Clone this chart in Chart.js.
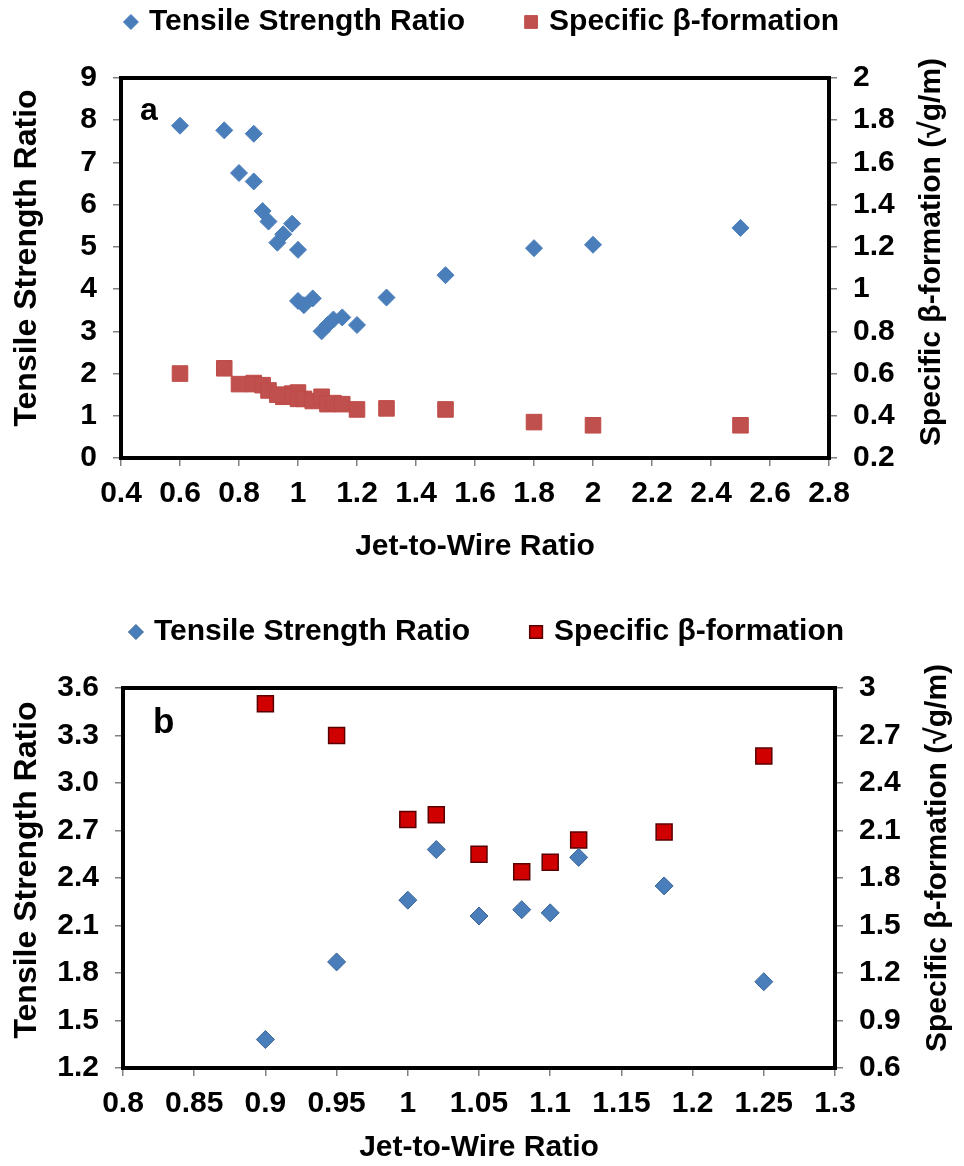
<!DOCTYPE html>
<html>
<head>
<meta charset="utf-8">
<script src="https://cdn.jsdelivr.net/npm/chart.js@4.4.1/dist/chart.umd.min.js"></script>
<style>
  body { margin: 0; background: #fff; }
  canvas { position: absolute; left: 0; }
  #chartA { top: 0; }
  #chartB { top: 565px; }
</style>
</head>
<body>
<canvas id="chartA" width="964" height="565"></canvas>
<canvas id="chartB" width="964" height="601"></canvas>
<script>
// ---- panel a ----
const jetRatioA = [0.6, 0.75, 0.85, 0.8, 0.85, 0.88, 0.9, 0.98, 0.95, 0.93, 1.0, 1.0,
                   1.02, 1.05, 1.08, 1.1, 1.12, 1.15, 1.2, 1.3, 1.5, 1.8, 2.0, 2.5];
const tensileA = [7.87, 7.76, 7.68, 6.75, 6.55, 5.85, 5.6, 5.55, 5.3, 5.1, 4.93, 3.72,
                  3.62, 3.78, 3.0, 3.15, 3.28, 3.33, 3.15, 3.8, 4.33, 4.97, 5.05, 5.45];
const betaA = [0.6, 0.625, 0.555, 0.55, 0.55, 0.545, 0.52, 0.505, 0.49, 0.5, 0.51, 0.48,
               0.48, 0.47, 0.49, 0.455, 0.46, 0.455, 0.43, 0.435, 0.43, 0.37, 0.355, 0.355];

// ---- panel b ----
const jetRatioB = [0.9, 0.95, 1.0, 1.02, 1.05, 1.08, 1.1, 1.12, 1.18, 1.25];
const tensileB = [1.38, 1.87, 2.26, 2.58, 2.16, 2.2, 2.18, 2.53, 2.35, 1.745];
const betaB = [2.9, 2.7, 2.17, 2.2, 1.95, 1.84, 1.9, 2.04, 2.09, 2.57];

const FONT = '"Liberation Sans", Arial, sans-serif';
const tickFont = { family: FONT, size: 30, weight: 'bold' };
const titleFont = { family: FONT, size: 30, weight: 'bold' };
const plain = v => String(+v.toFixed(2));

function points(xs, ys) {
  return xs.map((x, i) => ({ x: x, y: ys[i] }));
}

function sideTitle(ctx, text, x, y, size) {
  ctx.save();
  ctx.fillStyle = '#000';
  ctx.font = 'bold ' + size + 'px ' + FONT;
  ctx.textAlign = 'center';
  ctx.textBaseline = 'middle';
  ctx.translate(x, y);
  ctx.rotate(-Math.PI / 2);
  ctx.fillText(text, 0, 0);
  ctx.restore();
}

// frame, panel letter, side titles and legend
const decor = {
  id: 'decor',
  afterDraw(chart, args, o) {
    const ctx = chart.ctx;
    const a = chart.chartArea;
    const midY = (a.top + a.bottom) / 2;
    ctx.save();
    ctx.strokeStyle = '#000';
    ctx.lineWidth = 4;
    ctx.strokeRect(a.left, a.top, a.right - a.left, a.bottom - a.top);

    ctx.fillStyle = '#000';
    ctx.font = 'bold ' + o.letterSize + 'px ' + FONT;
    ctx.textBaseline = 'alphabetic';
    ctx.textAlign = 'left';
    ctx.fillText(o.letter, o.letterX, o.letterY);
    ctx.restore();

    // both axis titles read bottom to top
    sideTitle(ctx, 'Tensile Strength Ratio', o.leftX, midY + o.leftDy, 32);
    sideTitle(ctx, 'Specific \u03b2-formation (\u221ag/m)', o.rightX, midY + o.rightDy, 30);

    // legend
    ctx.save();
    ctx.font = 'bold 30px ' + FONT;
    ctx.textBaseline = 'middle';
    ctx.textAlign = 'left';
    const markW = 16, gapText = 10;
    const items = chart.data.datasets.map(ds => ({ ds: ds, w: ctx.measureText(ds.label).width }));
    let total = o.legendGap * (items.length - 1);
    items.forEach(it => { total += markW + gapText + it.w; });
    let x = o.legendCx - total / 2;
    items.forEach(it => {
      ctx.fillStyle = it.ds.backgroundColor;
      ctx.strokeStyle = it.ds.borderColor;
      ctx.lineWidth = it.ds.borderWidth;
      Chart.helpers.drawPoint(ctx, {
        pointStyle: it.ds.pointStyle,
        radius: it.ds.pointStyle === 'rect' ? 9 : 7.5,
        rotation: 0,
        borderWidth: it.ds.borderWidth
      }, x + markW / 2, o.legendY);
      ctx.fillStyle = '#000';
      ctx.fillText(it.ds.label, x + markW + gapText, o.legendY);
      x += markW + gapText + it.w + o.legendGap;
    });
    ctx.restore();
  }
};

function makeChart(id, cfg) {
  return new Chart(document.getElementById(id), {
    type: 'scatter',
    data: {
      datasets: [
        {
          label: 'Tensile Strength Ratio',
          data: points(cfg.xs, cfg.tensile),
          yAxisID: 'y',
          pointStyle: 'rectRot',
          pointRadius: cfg.diamondR,
          backgroundColor: '#4A7EBB',
          borderColor: cfg.diamondBorder,
          borderWidth: 1
        },
        {
          label: 'Specific \u03b2-formation',
          data: points(cfg.xs, cfg.beta),
          yAxisID: 'y2',
          pointStyle: 'rect',
          pointRadius: cfg.squareR,
          backgroundColor: cfg.squareFill,
          borderColor: cfg.squareBorder,
          borderWidth: cfg.squareBorderW
        }
      ]
    },
    options: {
      responsive: false,
      animation: false,
      layout: { padding: { top: cfg.top, left: 0, right: 0, bottom: 0 } },
      plugins: {
        legend: { display: false },
        tooltip: { enabled: false },
        decor: cfg.decor
      },
      scales: {
        x: {
          type: 'linear',
          min: cfg.xMin, max: cfg.xMax,
          ticks: { stepSize: cfg.xStep, font: tickFont, color: '#000', padding: 10, callback: plain },
          grid: { drawOnChartArea: false, tickLength: 8, color: '#808080', lineWidth: 1.5 },
          border: { display: false },
          title: { display: true, text: 'Jet-to-Wire Ratio', font: titleFont, color: '#000', padding: 0 },
          afterFit: s => { s.height = cfg.xHeight; }
        },
        y: {
          position: 'left',
          min: cfg.yMin, max: cfg.yMax,
          ticks: { stepSize: cfg.yStep, font: tickFont, color: '#000', padding: 16, callback: cfg.yFmt },
          grid: { drawOnChartArea: false, tickLength: 8, color: '#808080', lineWidth: 1.5 },
          border: { display: false },
          afterFit: s => { s.width = cfg.leftW; }
        },
        y2: {
          position: 'right',
          min: cfg.y2Min, max: cfg.y2Max,
          ticks: { stepSize: cfg.y2Step, font: tickFont, color: '#000', padding: 16, callback: plain },
          grid: { drawOnChartArea: false, tickLength: 8, color: '#808080', lineWidth: 1.5 },
          border: { display: false },
          afterFit: s => { s.width = cfg.rightW; }
        }
      }
    },
    plugins: [decor]
  });
}

makeChart('chartA', {
  xs: jetRatioA, tensile: tensileA, beta: betaA,
  diamondR: 8.5, diamondBorder: '#4A7EBB',
  squareR: 11, squareFill: '#C0504D', squareBorder: '#BE4B48', squareBorderW: 1,
  top: 78, xHeight: 107, leftW: 121, rightW: 135,
  xMin: 0.4, xMax: 2.8, xStep: 0.2,
  yMin: 0, yMax: 9, yStep: 1, yFmt: plain,
  y2Min: 0.2, y2Max: 2, y2Step: 0.2,
  decor: { letter: 'a', letterSize: 32, letterX: 140, letterY: 120,
           leftX: 27, leftDy: -10, rightX: 932, rightDy: -16,
           legendCx: 481, legendY: 22, legendGap: 58 }
});

makeChart('chartB', {
  xs: jetRatioB, tensile: tensileB, beta: betaB,
  diamondR: 9, diamondBorder: '#3A6596',
  squareR: 11.3, squareFill: '#D00000', squareBorder: '#5A0000', squareBorderW: 1.5,
  top: 123, xHeight: 98, leftW: 123, rightW: 129,
  xMin: 0.8, xMax: 1.3, xStep: 0.05,
  yMin: 1.2, yMax: 3.6, yStep: 0.3, yFmt: v => v.toFixed(1),
  y2Min: 0.6, y2Max: 3, y2Step: 0.3,
  decor: { letter: 'b', letterSize: 35, letterX: 153, letterY: 168,
           leftX: 27, leftDy: -8, rightX: 938, rightDy: -20,
           legendCx: 486, legendY: 67, legendGap: 58 }
});
</script>
</body>
</html>
